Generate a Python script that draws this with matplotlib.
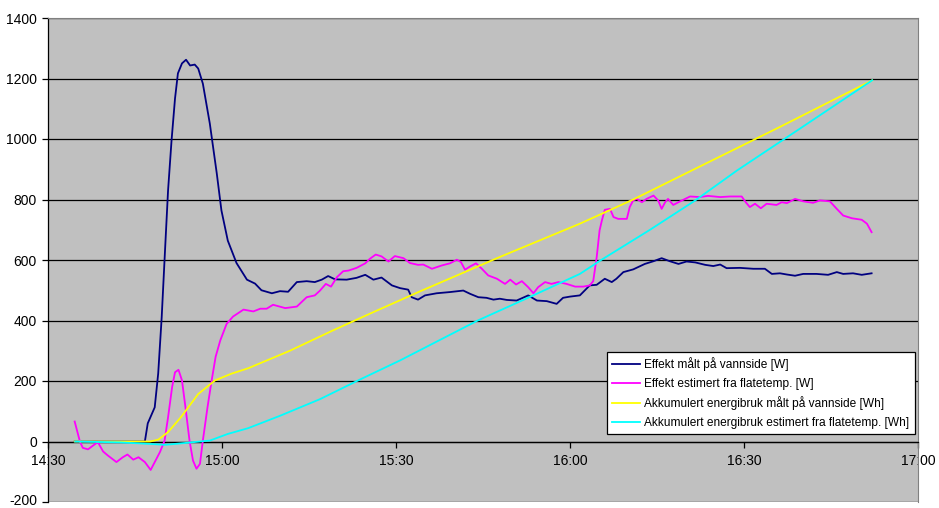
import matplotlib
matplotlib.use("Agg")
import matplotlib.pyplot as plt
from matplotlib.transforms import ScaledTranslation

plt.rcParams['font.family'] = ['Liberation Sans', 'DejaVu Sans']

# minutes after 14:30
blue_t = [4.6, 16.7, 17.2, 18.4, 19.0, 19.6, 20.2, 20.7, 21.3, 21.9, 22.4, 23.1, 23.8, 24.5, 25.3, 25.9,
          26.7, 27.9, 29.1, 29.9, 31.0, 32.5, 34.3, 35.7, 36.8, 38.6, 40.0, 41.4, 42.9, 44.6, 46.0, 47.2,
          48.3, 49.5, 51.5, 53.2, 54.7, 56.1, 57.5, 59.3, 60.7, 62.1, 62.7, 63.8, 65.0, 67.0, 69.3, 71.6,
          72.8, 74.2, 75.6, 76.8, 77.9, 79.1, 80.8, 82.8, 84.3, 86.0, 87.7, 88.8, 90.0, 91.7, 93.4, 94.6,
          96.0, 97.2, 98.0, 99.2, 100.9, 102.9, 104.4, 105.8, 107.2, 108.7, 110.1, 111.6, 113.3, 114.7,
          115.9, 117.0, 119.3, 121.6, 123.6, 124.8, 126.2, 127.4, 128.8, 130.2, 132.5, 134.5, 136.0,
          137.1, 138.8, 140.3, 142.0]
blue_v = [0, 0, 60, 113, 225, 410, 641, 830, 995, 1134, 1217, 1250, 1262, 1243, 1246, 1233,
          1183, 1051, 886, 764, 664, 590, 535, 522, 500, 490, 497, 495, 527, 530, 527, 535,
          547, 536, 535, 541, 551, 535, 542, 516, 507, 502, 477, 469, 483, 490, 494, 499,
          488, 477, 475, 469, 472, 468, 466, 483, 466, 464, 455, 475, 479, 483, 516, 518,
          538, 527, 538, 560, 569, 587, 596, 606, 596, 587, 595, 592, 584, 580,
          585, 573, 574, 571, 571, 554, 556, 552, 548, 554, 554, 551, 560,
          554, 556, 551, 556]

pink_t = [4.6, 5.5, 6.0, 6.9, 7.8, 8.6, 9.5, 10.3, 11.8, 12.9, 13.7, 14.7, 15.6, 16.7, 17.7, 18.4,
          19.3, 20.1, 20.7, 21.4, 21.9, 22.5, 23.1, 23.7, 24.4, 25.0, 25.6, 26.2, 26.7, 27.5, 28.2,
          28.9, 29.7, 30.8, 31.9, 33.7, 35.4, 36.6, 37.7, 38.8, 40.9, 42.9, 44.6, 46.0, 46.9, 47.9,
          48.8, 49.8, 50.9, 51.8, 53.2, 54.7, 55.5, 56.5, 57.5, 58.7, 59.8, 61.3, 62.4, 63.8, 64.7,
          66.2, 67.9, 69.3, 70.5, 71.2, 71.9, 72.8, 73.8, 74.8, 75.9, 77.4, 78.8, 79.7, 80.7, 81.7,
          82.8, 83.7, 84.5, 85.7, 86.8, 88.0, 89.4, 90.9, 92.3, 93.4, 94.0, 94.6, 95.1, 95.5, 96.0,
          96.9, 97.5, 98.3, 99.8, 100.3, 100.9, 101.5, 102.4, 103.2, 104.4, 105.2, 105.8, 106.4,
          106.9, 107.8, 109.0, 110.7, 112.4, 113.8, 115.9, 117.6, 119.6, 120.3, 121.0, 121.9, 122.9,
          123.9, 125.6, 126.5, 127.4, 128.8, 130.2, 131.9, 133.1, 134.8, 136.0, 137.1, 138.6, 140.3,
          141.2, 142.0]
pink_v = [66, 0, -21, -26, -13, -2, -33, -46, -68, -52, -43, -60, -52, -68, -94, -68,
          -35, 3, 80, 180, 229, 237, 202, 113, 3, -63, -90, -74, 3, 113, 200,
          280, 334, 389, 413, 436, 430, 439, 439, 452, 441, 446, 477, 483, 499, 521,
          512, 543, 563, 565, 574, 589, 604, 618, 612, 595, 613, 606, 590, 584, 585,
          571, 582, 589, 601, 593, 568, 579, 589, 571, 549, 538, 521, 535, 519, 530,
          510, 490, 510, 527, 521, 527, 521, 512, 512, 516, 530, 609, 698, 731, 766,
          769, 742, 736, 736, 775, 797, 802, 791, 802, 813, 797, 769, 791,
          802, 782, 794, 810, 808, 812, 808, 810, 810, 791, 775, 786, 771,
          786, 782, 791, 788, 802, 794, 789, 797, 794, 769, 747, 738, 733,
          720, 692]

yellow_t = [4.6, 17.6, 19.0, 20.7, 22.9, 25.9, 28.8, 31.6, 34.5, 41.7, 49.1, 56.6, 64.1, 77.9,
            91.7, 100.9, 111.0, 126.2, 142.1]
yellow_v = [0, 0, 6, 31, 80, 157, 202, 224, 242, 300, 367, 432, 496, 610,
            720, 800, 896, 1040, 1194]

cyan_t = [4.7, 12.4, 17.6, 20.2, 23.6, 26.2, 27.9, 31.0, 34.5, 40.0, 46.9, 53.8, 60.7, 67.6,
          74.1, 83.1, 91.7, 95.2, 103.8, 111.6, 118.8, 129.7, 142.1]
cyan_v = [0, -3, -8, -11, -5, 0, 3, 25, 44, 85, 140, 205, 268, 336,
          400, 478, 554, 598, 700, 797, 896, 1035, 1194]

labels = ["Effekt målt på vannside [W]",
          "Effekt estimert fra flatetemp. [W]",
          "Akkumulert energibruk målt på vannside [Wh]",
          "Akkumulert energibruk estimert fra flatetemp. [Wh]"]
x_ticks = [0, 30, 60, 90, 120, 150]
x_ticklabels = ["14:30", "15:00", "15:30", "16:00", "16:30", "17:00"]
y_ticks = [-200, 0, 200, 400, 600, 800, 1000, 1200, 1400]

W, H = 939, 508
fig = plt.figure(figsize=(W / 100, H / 100), dpi=100)
fig.patch.set_facecolor("white")
ax = fig.add_axes([48 / W, 1 - 502 / H, (918 - 48) / W, (502 - 18) / H])
ax.set_facecolor("#C0C0C0")

for yv in y_ticks:
    ax.axhline(yv, color="black", lw=0.9, zorder=1)

ax.plot(blue_t, blue_v, color="#000080", lw=1.3, label=labels[0], zorder=3)
ax.plot(pink_t, pink_v, color="#FF00FF", lw=1.3, label=labels[1], zorder=3)
ax.plot(yellow_t, yellow_v, color="#FFFF00", lw=1.3, label=labels[2], zorder=3)
ax.plot(cyan_t, cyan_v, color="#00FFFF", lw=1.3, label=labels[3], zorder=3)

ax.set_xlim(0, 150)
ax.set_ylim(-200, 1400)
ax.set_yticks(y_ticks)
ax.set_yticklabels([str(v) for v in y_ticks])
ax.set_xticks(x_ticks)
ax.set_xticklabels(x_ticklabels)

ax.spines['bottom'].set_position(('data', 0))
ax.spines['bottom'].set_color('black')
ax.spines['bottom'].set_linewidth(0.9)
ax.spines['left'].set_color('black')
ax.spines['left'].set_linewidth(0.9)
ax.spines['top'].set_color('#808080')
ax.spines['right'].set_color('#808080')
ax.tick_params(axis='both', direction='out', length=4, width=0.9, color='black', labelsize=10)
ax.tick_params(axis='x', pad=5)
ax.tick_params(axis='y', pad=4)

# nudge the lowest y label up slightly so it stays inside the figure
low_tick = ax.yaxis.get_major_ticks()[0]
low_tick.label1.set_transform(low_tick.label1.get_transform()
                              + ScaledTranslation(0, 2.5 / 100, fig.dpi_scale_trans))

leg = ax.legend(loc='upper left', bbox_to_anchor=(607 / W, 1 - 352 / H), bbox_transform=fig.transFigure,
                frameon=True, fancybox=False, edgecolor='black', facecolor='white', framealpha=1,
                fontsize=8.55, handlelength=2.35, handletextpad=0.35, labelspacing=0.55,
                borderpad=0.45, borderaxespad=0)
leg.get_frame().set_linewidth(0.9)
leg.set_zorder(5)

fig.savefig("out.png", dpi=100)
